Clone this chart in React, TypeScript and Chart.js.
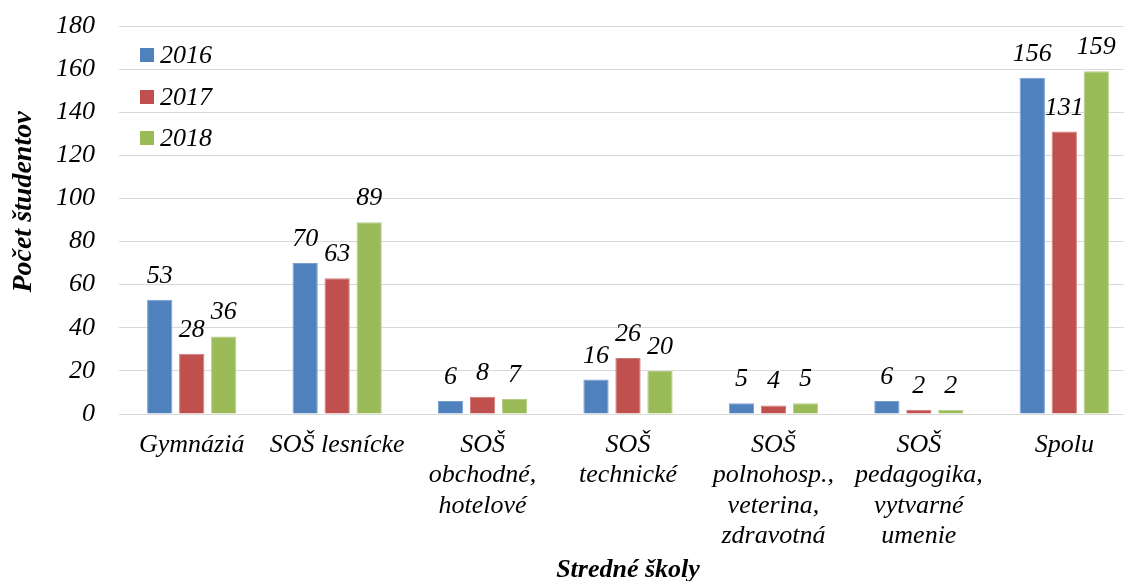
import React, { useEffect, useRef } from "react";
import { Chart, registerables } from "chart.js";

Chart.register(...registerables);

const categories: string[][] = [
  ["Gymnáziá"],
  ["SOŠ lesnícke"],
  ["SOŠ", "obchodné,", "hotelové"],
  ["SOŠ", "technické"],
  ["SOŠ", "polnohosp.,", "veterina,", "zdravotná"],
  ["SOŠ", "pedagogika,", "vytvarné", "umenie"],
  ["Spolu"],
];
const seriesNames = ["2016", "2017", "2018"];
const values2016 = [53, 70, 6, 16, 5, 6, 156];
const values2017 = [28, 63, 8, 26, 4, 2, 131];
const values2018 = [36, 89, 7, 20, 5, 2, 159];
const yMin = 0;
const yMax = 180;
const yStep = 20;
const yTitle = "Počet študentov";
const xTitle = "Stredné školy";

const colors = ["#4F81BD", "#C0504D", "#9BBB59"];
const borderColors = ["#7A9FCF", "#D07C7A", "#B5CE86"];
const FONT = "'Liberation Serif', 'Times New Roman', serif";

const overlayPlugin = {
  id: "overlay",
  afterDatasetsDraw(chart: any) {
    const ctx = chart.ctx;
    ctx.save();
    ctx.fillStyle = "#000";
    ctx.font = `italic 26px ${FONT}`;
    ctx.textAlign = "center";
    ctx.textBaseline = "alphabetic";
    chart.data.datasets.forEach((ds: any, i: number) => {
      const meta = chart.getDatasetMeta(i);
      meta.data.forEach((el: any, j: number) => {
        ctx.fillText(String(ds.data[j]), el.x, el.y - 17);
      });
    });
    ctx.restore();
  },
  afterDraw(chart: any) {
    const ctx = chart.ctx;
    ctx.save();
    // legend
    const legendY = [55, 97, 138];
    seriesNames.forEach((name, i) => {
      ctx.fillStyle = colors[i];
      ctx.fillRect(140, legendY[i] - 7, 14, 14);
      ctx.fillStyle = "#000";
      ctx.font = `italic 26px ${FONT}`;
      ctx.textAlign = "left";
      ctx.textBaseline = "middle";
      ctx.fillText(name, 160, legendY[i] + 1);
    });
    // y title
    ctx.save();
    ctx.translate(24, 202);
    ctx.rotate(-Math.PI / 2);
    ctx.font = `bold italic 28px ${FONT}`;
    ctx.textAlign = "center";
    ctx.textBaseline = "middle";
    ctx.fillStyle = "#000";
    ctx.fillText(yTitle, 0, 0);
    ctx.restore();
    // x title
    ctx.font = `bold italic 26px ${FONT}`;
    ctx.textAlign = "center";
    ctx.textBaseline = "alphabetic";
    ctx.fillStyle = "#000";
    ctx.fillText(xTitle, 628, 577);
    ctx.restore();
  },
};

export default function App() {
  const ref = useRef<HTMLCanvasElement | null>(null);
  useEffect(() => {
    if (!ref.current) return;
    const datasets = [values2016, values2017, values2018].map((d, i) => ({
      label: seriesNames[i],
      data: d,
      backgroundColor: colors[i],
      borderColor: borderColors[i],
      borderWidth: 1,
      categoryPercentage: 0.66,
      barPercentage: 0.79,
    }));
    const chart = new Chart(ref.current, {
      type: "bar",
      data: { labels: categories as any, datasets },
      options: {
        animation: false,
        responsive: false,
        devicePixelRatio: 1,
        layout: { padding: { left: 0, top: 26, right: 3, bottom: 0 } },
        plugins: {
          legend: { display: false },
          tooltip: { enabled: false },
          title: { display: false },
        },
        scales: {
          x: {
            grid: { display: false, drawTicks: false },
            border: { display: true, color: "#D9D9D9", width: 1 },
            ticks: {
              color: "#000",
              font: { family: FONT, size: 26, style: "italic", lineHeight: 1.17 },
              padding: 16,
              maxRotation: 0,
              minRotation: 0,
              autoSkip: false,
            },
            afterFit: (s: any) => {
              s.height = 167;
            },
          },
          y: {
            min: yMin,
            max: yMax,
            grid: { color: "#D9D9D9", lineWidth: 1, drawTicks: false },
            border: { display: false },
            ticks: {
              stepSize: yStep,
              color: "#000",
              font: { family: FONT, size: 26, style: "italic" },
              padding: 24,
            },
            afterFit: (s: any) => {
              s.width = 119;
              s.paddingTop = 0;
              s.paddingBottom = 0;
            },
          },
        },
      },
      plugins: [overlayPlugin],
    });
    return () => chart.destroy();
  }, []);
  return (
    <div
      style={{
        position: "fixed",
        left: 0,
        top: 0,
        width: 1124,
        height: 581,
        overflow: "hidden",
        background: "#fff",
      }}
    >
      <canvas ref={ref} width={1140} height={581} style={{ width: 1140, height: 581, display: "block" }} />
    </div>
  );
}
